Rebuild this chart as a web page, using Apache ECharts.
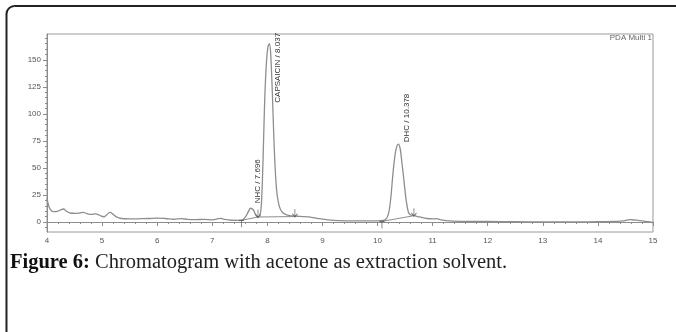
<!DOCTYPE html>
<html>
<head>
<meta charset="utf-8">
<script src="https://cdn.jsdelivr.net/npm/echarts@6/dist/echarts.min.js"></script>
<style>
  html, body { margin: 0; padding: 0; background: #ffffff; }
  #chart { width: 676px; height: 332px; }
</style>
</head>
<body>
<div id="chart"></div>
<script>
// retention time (min) and detector signal (mAU)
const times = [
  4.00, 4.03, 4.07, 4.12, 4.20, 4.26, 4.30, 4.35, 4.42, 4.52, 4.60, 4.66, 4.72, 4.80, 4.88, 4.95,
  5.03, 5.08, 5.14, 5.19, 5.25, 5.35, 5.50, 5.70, 5.85, 6.00, 6.15, 6.30, 6.44, 6.55, 6.70, 6.85,
  7.00, 7.08, 7.15, 7.22, 7.35, 7.50, 7.56, 7.62, 7.66, 7.696, 7.74, 7.78, 7.82, 7.86, 7.89, 7.92,
  7.95, 7.98, 8.01, 8.037, 8.06, 8.09, 8.12, 8.15, 8.18, 8.22, 8.27, 8.35, 8.45, 8.55, 8.65, 8.80,
  8.95, 9.10, 9.30, 9.60, 9.90, 10.08, 10.15, 10.20, 10.24, 10.28, 10.32, 10.35, 10.378, 10.41, 10.44, 10.48,
  10.52, 10.56, 10.60, 10.65, 10.72, 10.80, 10.90, 11.00, 11.07, 11.15, 11.25, 11.50, 12.00, 12.50, 13.00, 13.50,
  14.00, 14.30, 14.45, 14.58, 14.70, 14.85, 15.00
];
const signal = [
  22, 15, 11, 9.5, 10, 11.5, 12, 10, 8.3, 8, 8.4, 8.8, 7.8, 7, 7.4, 6.2,
  4.8, 6.5, 8.8, 7.5, 5, 3.2, 2.8, 3, 3.2, 3.6, 3.2, 2.5, 3.1, 2.4, 2.2, 2.3,
  2, 2.6, 3.4, 2.4, 1.6, 1.5, 2.2, 6, 10, 12.7, 11.5, 7.5, 4.6, 5.5, 15, 55,
  110, 145, 162, 165, 156, 120, 75, 42, 24, 14, 9, 6.5, 5.6, 5.3, 5, 4.3,
  3, 2, 1.3, 1, 1, 1.2, 2.5, 8, 22, 45, 63, 70, 72, 68, 56, 38,
  20, 9, 6.5, 6, 5, 4.3, 3.2, 2.8, 3, 2, 1.2, 0.6, 0.4, 0.2, 0, 0,
  0.3, 0.4, 1, 2.2, 1.6, 0.6, -0.5
];

// integration baselines
const capBaseT = [7.53, 7.83, 8.50];
const capBaseV = [1.5, 4.6, 5.0];
const dhcBaseT = [10.08, 10.66];
const dhcBaseV = [0.5, 5.8];

// peak start / end marks
const startMarkT = [7.53, 10.08];
const startMarkV = [1.5, 0.5];
const endMarkT = [7.83, 8.50, 10.66];
const endMarkV = [4.6, 5.0, 5.8];

// peak labels
const peakNames = ['NHC', 'CAPSAICIN', 'DHC'];
const peakTimes = [7.696, 8.037, 10.378];

const xTicks = [4, 5, 6, 7, 8, 9, 10, 11, 12, 13, 14, 15];
const yTicks = [0, 25, 50, 75, 100, 125, 150];
const yMin = -9.3;
const yMax = 174;

const yMinorTicks = [];
for (let v = -5; v <= 170; v += 5) yMinorTicks.push(v);

const zip = (a, b) => a.map((t, i) => [t, b[i]]);

const axisGray = '#8c8c8c';
const textGray = '#555555';
const traceGray = '#8e8e8e';

const myChart = echarts.init(document.getElementById('chart'), null, { renderer: 'canvas' });

const option = {
  animation: false,
  backgroundColor: '#ffffff',
  grid: {
    left: 47, right: 23, top: 34, bottom: 100,
    show: true,
    borderColor: '#9a9a9a',
    borderWidth: 1
  },
  xAxis: {
    type: 'value',
    min: xTicks[0],
    max: xTicks[xTicks.length - 1],
    interval: 1,
    axisLine: { lineStyle: { color: axisGray, width: 1 } },
    axisTick: { length: 4, lineStyle: { color: axisGray } },
    minorTick: { show: true, splitNumber: 5, length: 2, lineStyle: { color: axisGray } },
    splitLine: { show: false },
    axisLabel: { color: textGray, fontSize: 8, fontFamily: 'Liberation Sans', margin: 5 }
  },
  yAxis: [
    {
      type: 'value',
      min: yMin,
      max: yMax,
      axisLine: { show: true, lineStyle: { color: axisGray, width: 1 } },
      axisTick: { show: true, length: 4, customValues: yTicks, lineStyle: { color: axisGray } },
      axisLabel: { customValues: yTicks, color: textGray, fontSize: 8, fontFamily: 'Liberation Sans', margin: 6 },
      splitLine: { show: false }
    },
    {
      type: 'value',
      min: yMin,
      max: yMax,
      position: 'left',
      axisLine: { show: false },
      axisTick: { show: true, length: 2, customValues: yMinorTicks, lineStyle: { color: axisGray } },
      axisLabel: { show: false },
      splitLine: { show: false }
    }
  ],
  series: [
    {
      name: 'PDA Multi 1',
      type: 'line',
      data: zip(times, signal),
      smooth: 0.35,
      symbol: 'none',
      lineStyle: { color: traceGray, width: 1.3 },
      z: 3
    },
    {
      type: 'line',
      data: zip(capBaseT, capBaseV),
      symbol: 'none',
      lineStyle: { color: traceGray, width: 1 },
      z: 2
    },
    {
      type: 'line',
      data: zip(dhcBaseT, dhcBaseV),
      symbol: 'none',
      lineStyle: { color: traceGray, width: 1 },
      z: 2
    },
    {
      type: 'scatter',
      data: zip(startMarkT, startMarkV),
      symbol: 'path://M0,0 L8,0 M4,0 L4,12',
      symbolSize: [5, 7],
      symbolOffset: [0, 3.5],
      itemStyle: { color: 'none', borderColor: '#555', borderWidth: 1 },
      z: 4
    },
    {
      type: 'scatter',
      data: zip(endMarkT, endMarkV),
      symbol: 'path://M4,0 L4,10 M1,6 L4,10 L7,6',
      symbolSize: [5, 8],
      symbolOffset: [0, -3.5],
      itemStyle: { color: 'none', borderColor: '#555', borderWidth: 1 },
      z: 4
    }
  ]
};

myChart.setOption(option);

// rotated peak labels, anchored on each peak apex
const labelShift = { NHC: [7, -5], CAPSAICIN: [8.5, 59], DHC: [8.5, -2] };
const peakLabels = peakNames.map((name, i) => {
  const t = peakTimes[i];
  const v = signal[times.indexOf(t)];
  const p = myChart.convertToPixel({ gridIndex: 0 }, [t, v]);
  const d = labelShift[name];
  return {
    type: 'text',
    x: p[0] + d[0],
    y: p[1] + d[1],
    rotation: Math.PI / 2,
    style: {
      text: name + ' / ' + t.toFixed(3),
      fill: '#333',
      font: '8px "Liberation Sans"',
      align: 'left',
      verticalAlign: 'middle'
    },
    z: 10
  };
});

myChart.setOption({
  graphic: [
    {
      type: 'rect',
      shape: { x: 6.5, y: 6, width: 720, height: 400, r: 8 },
      style: { fill: 'none', stroke: '#222', lineWidth: 2 },
      silent: true
    },
    {
      type: 'text',
      x: 652,
      y: 38,
      style: {
        text: 'PDA Multi 1',
        fill: '#666',
        font: '8px "Liberation Sans"',
        align: 'right',
        verticalAlign: 'middle'
      }
    },
    {
      type: 'text',
      x: 10,
      y: 263,
      style: {
        text: '{b|Figure 6:} Chromatogram with acetone as extraction solvent.',
        rich: {
          b: { fontWeight: 'bold', fontSize: 20.5, fontFamily: 'Liberation Serif', fill: '#111' }
        },
        fill: '#222',
        fontSize: 20.5,
        fontFamily: 'Liberation Serif',
        align: 'left',
        verticalAlign: 'middle'
      }
    }
  ].concat(peakLabels)
});
</script>
</body>
</html>
